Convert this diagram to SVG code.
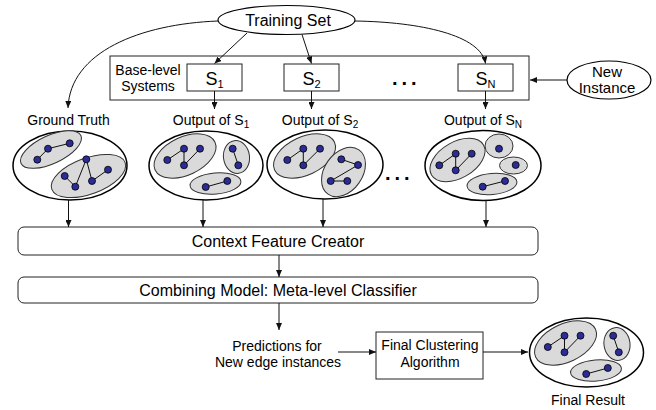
<svg xmlns="http://www.w3.org/2000/svg" xmlns:xlink="http://www.w3.org/1999/xlink" width="656" height="410" viewBox="0 0 656 410">
  <style>
    text { font-family: "Liberation Sans", Arial, sans-serif; fill: #000; }
    .t16 { font-size: 16px; }
    .t14 { font-size: 14px; }
    .box { fill: #fff; stroke: #222; stroke-width: 1; }
    .oval { fill: #fff; stroke: #000; stroke-width: 1.2; }
    .outer { fill: #fff; stroke: #000; stroke-width: 1.5; }
    .grp { fill: #dadada; stroke: #333; stroke-width: 1; }
    .edge { stroke: #111; stroke-width: 1; fill: none; }
    .pt { fill: #2c2c96; stroke: #000; stroke-width: 0.8; }
    .conn { stroke: #111; stroke-width: 1; fill: none; marker-end: url(#arrow); }
    .dots { font-size: 20px; font-weight: bold; letter-spacing: 4px; }
  </style>
  <defs>
    <marker id="arrow" markerUnits="userSpaceOnUse" markerWidth="7" markerHeight="6" refX="7" refY="3" orient="auto">
      <path d="M0,0 L7,3 L0,6 z" fill="#111"/>
    </marker>
    <!-- three-cluster partition, drawn around (0,0) -->
    <g id="threeClusters">
      <ellipse class="outer" cx="0" cy="0" rx="57" ry="34.5"/>
      <ellipse class="grp" cx="-21" cy="-9.5" rx="33" ry="19" transform="rotate(-25 -21 -9.5)"/>
      <ellipse class="grp" cx="30.5" cy="-8.5" rx="13" ry="16.5" transform="rotate(-8 30.5 -8.5)"/>
      <ellipse class="grp" cx="9.5" cy="18" rx="25.5" ry="10.5" transform="rotate(-5 9.5 18)"/>
      <path class="edge" d="M-38.7,-5.5 L-22,-16.8 L-22,-0.2 L-6,-16.8 M26.7,-16.8 L32.3,-0.2 M-0.3,21.5 L21.3,15.5"/>
      <circle class="pt" cx="-38.7" cy="-5.5" r="3.5"/>
      <circle class="pt" cx="-22" cy="-16.8" r="3.5"/>
      <circle class="pt" cx="-6" cy="-16.8" r="3.5"/>
      <circle class="pt" cx="-22" cy="-0.2" r="3.5"/>
      <circle class="pt" cx="26.7" cy="-16.8" r="3.5"/>
      <circle class="pt" cx="32.3" cy="-0.2" r="3.5"/>
      <circle class="pt" cx="-0.3" cy="21.5" r="3.5"/>
      <circle class="pt" cx="21.3" cy="15.5" r="3.5"/>
    </g>
  </defs>

  <g id="training-set">
    <ellipse class="oval" cx="286.5" cy="20" rx="68.5" ry="14.5"/>
    <text class="t16" x="288" y="26" text-anchor="middle">Training Set</text>
  </g>

  <g id="base-level-systems">
    <rect class="box" x="110" y="56" width="419" height="44"/>
    <text class="t14" x="148" y="75" text-anchor="middle">Base-level</text>
    <text class="t14" x="148" y="91" text-anchor="middle">Systems</text>
    <text class="dots" x="392" y="85">...</text>
  </g>

  <g id="s1">
    <rect class="box" x="187" y="64" width="55" height="27"/>
    <text x="214.5" y="85" text-anchor="middle" style="font-size:18px">S<tspan style="font-size:11px" dy="3">1</tspan></text>
  </g>
  <g id="s2">
    <rect class="box" x="284" y="64" width="55" height="27"/>
    <text x="311.5" y="85" text-anchor="middle" style="font-size:18px">S<tspan style="font-size:11px" dy="3">2</tspan></text>
  </g>
  <g id="sn">
    <rect class="box" x="458" y="64" width="55" height="27"/>
    <text x="485.5" y="85" text-anchor="middle" style="font-size:18px">S<tspan style="font-size:11px" dy="3">N</tspan></text>
  </g>

  <g id="new-instance">
    <ellipse class="oval" cx="609" cy="80" rx="42" ry="19"/>
    <text x="607" y="77" text-anchor="middle" style="font-size:15px">New</text>
    <text x="607" y="93" text-anchor="middle" style="font-size:15px">Instance</text>
  </g>

  <g id="ground-truth">
    <text class="t14" x="68.5" y="125" text-anchor="middle">Ground Truth</text>
    <ellipse class="outer" cx="70" cy="165.5" rx="57" ry="34.5"/>
    <ellipse class="grp" cx="51" cy="149.5" rx="33" ry="14" transform="rotate(-25 51 149.5)"/>
    <ellipse class="grp" cx="88.5" cy="176" rx="39" ry="18" transform="rotate(-20 88.5 176)"/>
    <path class="edge" d="M37.3,159.7 L48,148.7 L69.7,143.3 M64.7,176 L75.3,186.7 L86.3,159.3 L92,181 L108,169.7"/>
    <circle class="pt" cx="37.3" cy="159.7" r="3.5"/>
    <circle class="pt" cx="48" cy="148.7" r="3.5"/>
    <circle class="pt" cx="69.7" cy="143.3" r="3.5"/>
    <circle class="pt" cx="64.7" cy="176" r="3.5"/>
    <circle class="pt" cx="75.3" cy="186.7" r="3.5"/>
    <circle class="pt" cx="86.3" cy="159.3" r="3.5"/>
    <circle class="pt" cx="92" cy="181" r="3.5"/>
    <circle class="pt" cx="108" cy="169.7" r="3.5"/>
  </g>

  <g id="output-s1">
    <text class="t14" x="211" y="125" text-anchor="middle">Output of S<tspan style="font-size:10px" dy="3">1</tspan></text>
    <use xlink:href="#threeClusters" href="#threeClusters" x="206" y="165.5"/>
  </g>

  <g id="output-s2">
    <text class="t14" x="320" y="125" text-anchor="middle">Output of S<tspan style="font-size:10px" dy="3">2</tspan></text>
    <ellipse class="outer" cx="325" cy="164.5" rx="58" ry="34.5"/>
    <ellipse class="grp" cx="304.5" cy="156" rx="33" ry="19" transform="rotate(-25 304.5 156)"/>
    <ellipse class="grp" cx="343.5" cy="172" rx="27" ry="19" transform="rotate(-55 343.5 172)"/>
    <path class="edge" d="M287.3,160 L303.3,148.7 L303.3,165.3 L320,148.7 M341.3,159.3 L358,165 L330.7,181 L347.3,181"/>
    <circle class="pt" cx="287.3" cy="160" r="3.5"/>
    <circle class="pt" cx="303.3" cy="148.7" r="3.5"/>
    <circle class="pt" cx="320" cy="148.7" r="3.5"/>
    <circle class="pt" cx="303.3" cy="165.3" r="3.5"/>
    <circle class="pt" cx="341.3" cy="159.3" r="3.5"/>
    <circle class="pt" cx="358" cy="165" r="3.5"/>
    <circle class="pt" cx="330.7" cy="181" r="3.5"/>
    <circle class="pt" cx="347.3" cy="181" r="3.5"/>
  </g>

  <text class="dots" x="385" y="180">...</text>

  <g id="output-sn">
    <text class="t14" x="483" y="125" text-anchor="middle">Output of S<tspan style="font-size:10px" dy="3">N</tspan></text>
    <ellipse class="outer" cx="483" cy="165.5" rx="58" ry="35"/>
    <ellipse class="grp" cx="457.5" cy="160" rx="30" ry="18" transform="rotate(-30 457.5 160)"/>
    <ellipse class="grp" cx="499" cy="146" rx="14" ry="12"/>
    <ellipse class="grp" cx="513.5" cy="165.5" rx="14" ry="8.5"/>
    <ellipse class="grp" cx="492" cy="184" rx="25" ry="10.5" transform="rotate(-5 492 184)"/>
    <path class="edge" d="M439.3,165.3 L455.7,153.7 L455.7,170.3 L471.7,153.7 M482.7,186.7 L505,181"/>
    <circle class="pt" cx="439.3" cy="165.3" r="3.5"/>
    <circle class="pt" cx="455.7" cy="153.7" r="3.5"/>
    <circle class="pt" cx="471.7" cy="153.7" r="3.5"/>
    <circle class="pt" cx="455.7" cy="170.3" r="3.5"/>
    <circle class="pt" cx="499" cy="148.7" r="3.5"/>
    <circle class="pt" cx="515.7" cy="165" r="3.5"/>
    <circle class="pt" cx="482.7" cy="186.7" r="3.5"/>
    <circle class="pt" cx="505" cy="181" r="3.5"/>
  </g>

  <g id="context-feature-creator">
    <rect class="box" x="18" y="227" width="520" height="28" rx="6"/>
    <text class="t16" x="278" y="247" text-anchor="middle">Context Feature Creator</text>
  </g>

  <g id="combining-model">
    <rect class="box" x="18" y="277" width="520" height="26" rx="6"/>
    <text class="t16" x="278" y="296" text-anchor="middle">Combining Model: Meta-level Classifier</text>
  </g>

  <g id="predictions">
    <text class="t14" x="277" y="351" text-anchor="middle">Predictions for</text>
    <text class="t14" x="278" y="367" text-anchor="middle">New edge instances</text>
  </g>

  <g id="final-clustering">
    <rect class="box" x="376" y="332" width="107" height="47"/>
    <text class="t14" x="430" y="350" text-anchor="middle">Final Clustering</text>
    <text class="t14" x="430" y="367" text-anchor="middle">Algorithm</text>
  </g>

  <g id="final-result">
    <use xlink:href="#threeClusters" href="#threeClusters" x="586.5" y="352.5"/>
    <text class="t14" x="588" y="405" text-anchor="middle">Final Result</text>
  </g>

  <!-- connectors, drawn last so box fills do not hide them -->
  <g id="connectors">
    <path class="conn" d="M218,21 C140,24 70,52 68,108"/>
    <path class="conn" d="M247,33 L214.5,63.5"/>
    <path class="conn" d="M302,34.5 L311.5,63.5"/>
    <path class="conn" d="M355,21 C420,22 481,35 485.5,63.5"/>
    <path class="conn" d="M567,80 L530,80"/>
    <path class="conn" d="M214.5,91 L214.5,109"/>
    <path class="conn" d="M311.5,91 L311.5,109"/>
    <path class="conn" d="M485.5,91 L485.5,109"/>
    <path class="conn" d="M68.5,200 L68.5,227"/>
    <path class="conn" d="M203,200 L203,227"/>
    <path class="conn" d="M323,199 L323,227"/>
    <path class="conn" d="M486,200.5 L486,227"/>
    <path class="conn" d="M279,255 L279,277"/>
    <path class="conn" d="M279,303 L279,330"/>
    <path class="conn" d="M338,352 L376,352"/>
    <path class="conn" d="M483,352 L528,352"/>
  </g>
</svg>
